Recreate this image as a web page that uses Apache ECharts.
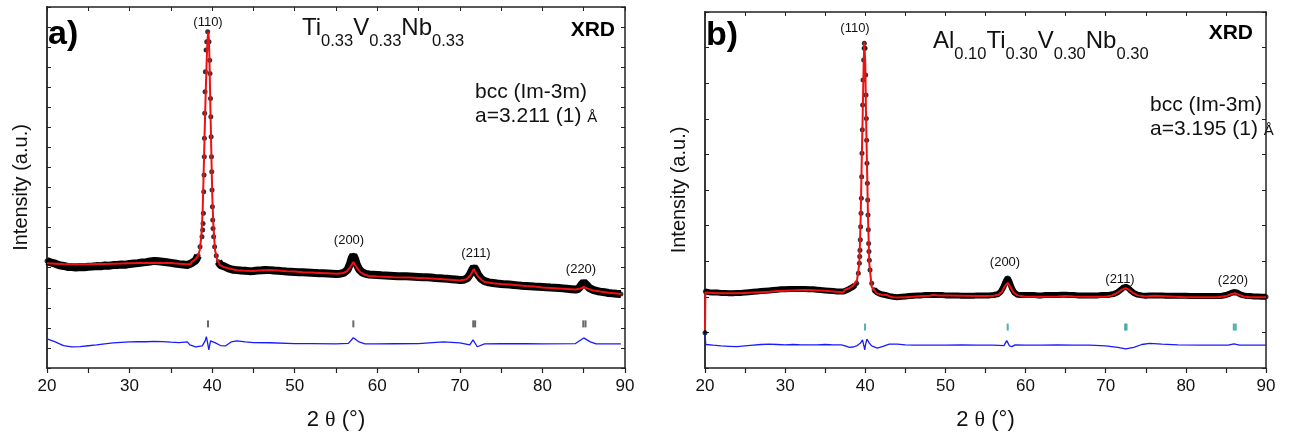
<!DOCTYPE html>
<html>
<head>
<meta charset="utf-8">
<script src="https://cdn.jsdelivr.net/npm/echarts@6/dist/echarts.min.js"></script>
<style>
html,body{margin:0;padding:0;background:#fff;}
#chart{width:1291px;height:439px;}
</style>
</head>
<body>
<div id="chart"></div>
<script>
// ---------------- DATA ----------------
// Panel a) Ti0.33V0.33Nb0.33 : [2theta, intensity a.u.]
const obsA = [[20.0,5.33],[20.5,5.26],[21.0,5.20],[21.5,5.12],[22.0,5.09],[22.5,5.04],[23.0,5.03],[23.5,5.01],[24.0,5.04],[24.5,5.02],[25.0,5.05],[25.5,5.06],[26.0,5.08],[26.5,5.07],[27.0,5.11],[27.5,5.10],[28.0,5.13],[28.5,5.14],[29.0,5.16],[29.5,5.15],[30.0,5.19],[30.5,5.21],[31.0,5.23],[31.5,5.26],[32.0,5.28],[32.5,5.31],[33.0,5.34],[33.5,5.32],[34.0,5.30],[34.5,5.27],[35.0,5.24],[35.5,5.21],[36.0,5.18],[36.5,5.16],[37.0,5.14],[37.5,5.22],[38.0,5.36],[38.3,5.60],[38.53,6.05],[38.77,6.54],[38.86,6.88],[38.90,7.21],[38.94,7.71],[38.98,8.79],[39.02,9.62],[39.05,10.53],[39.07,11.45],[39.10,12.70],[39.14,13.77],[39.18,14.77],[39.26,15.85],[39.34,16.27],[39.46,16.77],[39.62,16.27],[39.70,15.35],[39.74,14.69],[39.80,13.44],[39.84,12.53],[39.88,11.53],[39.92,10.53],[39.95,9.79],[39.99,8.87],[40.03,8.04],[40.07,7.38],[40.11,6.96],[40.18,6.54],[40.30,6.05],[40.50,5.60],[40.75,5.30],[41.0,5.14],[41.5,5.06],[42.0,4.96],[42.5,4.90],[43.0,4.88],[43.5,4.86],[44.0,4.85],[44.5,4.83],[45.0,4.84],[45.5,4.86],[46.0,4.87],[46.5,4.89],[47.0,4.88],[47.5,4.86],[48.0,4.85],[48.5,4.83],[49.0,4.81],[49.5,4.80],[50.0,4.79],[50.5,4.78],[51.0,4.77],[51.5,4.76],[52.0,4.75],[52.5,4.74],[53.0,4.73],[53.5,4.72],[54.0,4.71],[54.5,4.70],[55.0,4.69],[55.5,4.70],[56.0,4.76],[56.4,4.90],[56.7,5.20],[56.9,5.48],[57.1,5.62],[57.3,5.45],[57.5,5.18],[57.8,4.92],[58.2,4.76],[58.6,4.69],[59.0,4.66],[59.5,4.65],[60.0,4.64],[60.5,4.62],[61.0,4.61],[61.5,4.60],[62.0,4.59],[62.5,4.58],[63.0,4.57],[63.5,4.57],[64.0,4.56],[64.5,4.55],[65.0,4.54],[65.5,4.53],[66.0,4.52],[66.5,4.51],[67.0,4.49],[67.5,4.48],[68.0,4.46],[68.5,4.45],[69.0,4.43],[69.5,4.41],[70.0,4.39],[70.5,4.40],[70.9,4.48],[71.2,4.65],[71.5,4.90],[71.7,5.03],[71.9,4.92],[72.2,4.65],[72.6,4.44],[73.0,4.33],[73.5,4.27],[74.0,4.24],[74.5,4.21],[75.0,4.19],[75.5,4.17],[76.0,4.16],[76.5,4.14],[77.0,4.12],[77.5,4.10],[78.0,4.09],[78.5,4.08],[79.0,4.06],[79.5,4.05],[80.0,4.04],[80.5,4.03],[81.0,4.01],[81.5,4.00],[82.0,3.99],[82.5,3.97],[83.0,3.95],[83.5,3.93],[84.0,3.91],[84.4,3.96],[84.7,4.14],[85.0,4.28],[85.3,4.16],[85.7,3.98],[86.2,3.88],[86.7,3.83],[87.0,3.81],[87.5,3.78],[88.0,3.74],[88.5,3.72],[89.0,3.70],[89.5,3.69]];
const calcA = [[20,5.22],[21,5.20],[22,5.18],[23,5.17],[24,5.17],[25,5.17],[26,5.18],[27,5.19],[28,5.20],[29,5.21],[30,5.22],[31,5.23],[32,5.24],[33,5.25],[34,5.24],[35,5.23],[36,5.20],[37,5.17],[37.4,5.17],[37.5,5.28],[38,5.43],[38.3,5.6],[38.5,5.88],[38.7,6.6],[38.85,7.8],[38.93,9.04],[39.03,10.7],[39.13,12.36],[39.24,14.0],[39.34,15.35],[39.44,16.4],[39.54,16.77],[39.60,16.4],[39.66,15.70],[39.74,14.0],[39.82,12.36],[39.92,10.4],[40.02,8.54],[40.15,7.1],[40.35,5.88],[40.6,5.4],[40.95,5.13],[41.5,5.02],[41.96,4.97],[42.2,4.89],[43,4.87],[44,4.85],[45,4.84],[46,4.87],[47,4.89],[48,4.86],[49,4.83],[50,4.81],[51,4.78],[52,4.76],[53,4.74],[54,4.72],[55,4.70],[55.8,4.72],[56.3,4.82],[56.7,5.02],[57.1,5.28],[57.5,5.02],[57.9,4.80],[58.4,4.66],[59,4.59],[60,4.56],[62,4.53],[64,4.51],[65,4.49],[66,4.47],[68,4.42],[70,4.36],[70.8,4.42],[71.3,4.64],[71.7,4.94],[72.1,4.62],[72.6,4.40],[73,4.29],[74,4.23],[75,4.19],[76,4.16],[77,4.13],[78,4.09],[79,4.06],[80,4.01],[81,3.99],[82,3.97],[83,3.94],[84,3.91],[84.6,3.96],[85,4.04],[85.4,3.97],[86,3.88],[87,3.81],[88,3.75],[89,3.71],[89.5,3.69]];
const diffA = [[20,1.45],[21,1.30],[22,1.12],[23,1.05],[24,1.07],[25,1.11],[26,1.15],[27,1.20],[28,1.25],[29,1.28],[30,1.30],[31,1.31],[32,1.31],[33,1.33],[34,1.32],[35,1.29],[36,1.27],[37,1.30],[37.3,1.15],[38,1.05],[38.8,1.10],[39.15,1.35],[39.3,1.56],[39.45,1.25],[39.6,0.90],[39.8,1.35],[40.0,1.43],[40.4,1.25],[41.0,1.12],[41.6,1.10],[42.3,1.30],[43,1.35],[44,1.30],[45,1.27],[47,1.26],[50,1.22],[52,1.22],[55,1.20],[56.5,1.23],[57.1,1.51],[57.8,1.30],[58.5,1.20],[60,1.20],[62,1.21],[65,1.22],[68,1.30],[70,1.25],[71.2,1.15],[71.6,1.40],[72.1,1.06],[73,1.20],[75,1.22],[78,1.21],[80,1.20],[84,1.22],[85,1.50],[85.8,1.30],[86.5,1.20],[88,1.20],[89.5,1.20]];
const braggA = [[39.5,2.2],[57.1,2.2],[71.62,2.2],[71.85,2.2],[84.95,2.2],[85.22,2.2]];
const hklA = ['(110)','(200)','(211)','(220)'];
const formulaA = ['Ti','0.33','V','0.33','Nb','0.33'];
const latticeA = 'a=3.211 (1) ';

// Panel b) Al0.10Ti0.30V0.30Nb0.30
const obsStartB = [[20.0,0.99]];
const obsB = [[20.05,2.15],[20.5,2.13],[21,2.12],[21.5,2.12],[22,2.11],[22.5,2.11],[23,2.10],[23.5,2.10],[24,2.11],[24.5,2.11],[25,2.12],[25.5,2.13],[26,2.14],[26.5,2.15],[27,2.16],[27.5,2.17],[28,2.18],[28.5,2.19],[29,2.20],[29.5,2.21],[30,2.21],[30.5,2.22],[31,2.22],[31.5,2.22],[32,2.22],[32.5,2.22],[33,2.21],[33.5,2.21],[34,2.20],[34.5,2.19],[35,2.18],[35.5,2.17],[36,2.16],[36.5,2.15],[37,2.15],[37.3,2.15],[37.6,2.18],[38,2.22],[38.4,2.27],[38.7,2.32],[38.93,2.38],[39.13,2.66],[39.26,2.94],[39.30,3.13],[39.34,3.31],[39.38,3.60],[39.42,3.97],[39.47,4.35],[39.51,4.77],[39.55,5.37],[39.59,6.03],[39.63,6.69],[39.67,7.39],[39.72,8.09],[39.80,8.65],[39.86,8.98],[39.88,9.12],[39.97,8.98],[40.05,8.23],[40.09,7.67],[40.13,7.01],[40.17,6.40],[40.21,5.75],[40.26,5.19],[40.30,4.72],[40.34,4.30],[40.38,3.88],[40.42,3.50],[40.46,3.27],[40.51,3.03],[40.59,2.75],[40.80,2.38],[41.1,2.20],[41.5,2.12],[42,2.07],[42.5,2.05],[43,2.02],[43.5,2.00],[44,1.99],[44.5,2.00],[45,2.01],[45.5,2.02],[46,2.03],[46.5,2.04],[47,2.04],[47.5,2.05],[48,2.05],[48.5,2.05],[49,2.05],[49.5,2.05],[50,2.04],[50.5,2.04],[51,2.04],[51.5,2.04],[52,2.03],[52.5,2.03],[53,2.03],[53.5,2.03],[54,2.04],[54.5,2.04],[55,2.04],[55.5,2.04],[56,2.05],[56.5,2.07],[56.9,2.14],[57.2,2.26],[57.5,2.43],[57.77,2.53],[58.0,2.42],[58.3,2.24],[58.6,2.12],[59,2.06],[59.5,2.05],[60,2.05],[60.5,2.05],[61,2.05],[61.5,2.04],[62,2.04],[62.5,2.05],[63,2.05],[63.5,2.05],[64,2.05],[64.5,2.06],[65,2.06],[65.5,2.05],[66,2.05],[66.5,2.04],[67,2.04],[67.5,2.04],[68,2.04],[68.5,2.04],[69,2.04],[69.5,2.05],[70,2.05],[70.5,2.06],[71,2.08],[71.5,2.13],[71.9,2.20],[72.2,2.26],[72.5,2.28],[72.8,2.25],[73.1,2.18],[73.5,2.11],[74,2.06],[74.5,2.04],[75,2.03],[75.5,2.04],[76,2.04],[76.5,2.04],[77,2.04],[77.5,2.03],[78,2.03],[78.5,2.03],[79,2.03],[79.5,2.03],[80,2.03],[80.5,2.02],[81,2.02],[81.5,2.02],[82,2.02],[82.5,2.02],[83,2.02],[83.5,2.02],[84,2.02],[84.5,2.03],[85,2.05],[85.5,2.09],[85.9,2.13],[86.1,2.14],[86.4,2.12],[86.8,2.07],[87.2,2.04],[87.5,2.03],[88,2.02],[88.5,2.01],[89,2.01],[89.5,2.00],[90,2.00]];
const calcB = [[20,1.07],[20.05,2.12],[21,2.11],[22,2.10],[23,2.10],[24,2.10],[25,2.11],[26,2.12],[27,2.13],[28,2.14],[29,2.16],[30,2.17],[31,2.18],[32,2.19],[33,2.19],[34,2.18],[35,2.17],[36,2.15],[37,2.13],[37.3,2.13],[37.4,2.19],[38,2.24],[38.5,2.32],[38.97,2.47],[39.26,2.94],[39.43,4.25],[39.55,5.75],[39.68,7.15],[39.80,8.56],[39.88,9.14],[40.0,8.56],[40.09,7.15],[40.21,5.75],[40.34,4.25],[40.5,2.94],[40.8,2.28],[41.42,2.10],[42,2.06],[42.67,2.05],[43.2,2.00],[43.5,1.99],[44,1.98],[45,1.99],[46,2.00],[47,2.02],[48,2.03],[48.5,2.05],[49,2.04],[50,2.04],[52,2.03],[54,2.02],[55,2.02],[56,2.03],[56.6,2.06],[57.0,2.13],[57.4,2.30],[57.77,2.39],[58.1,2.28],[58.5,2.12],[59,2.04],[60,2.00],[62,2.00],[64,2.01],[65,2.02],[66,2.01],[68,2.00],[70,2.00],[70.8,2.04],[71.5,2.12],[72.0,2.20],[72.5,2.24],[72.9,2.20],[73.4,2.11],[74,2.04],[75,2.01],[76,2.03],[78,2.01],[80,1.99],[82,1.99],[84,1.99],[85,2.02],[85.6,2.07],[86.1,2.10],[86.6,2.06],[87.2,2.01],[88,1.99],[90,1.99]];
const diffB = [[20,0.97],[20.1,0.66],[21,0.64],[22,0.62],[23,0.61],[24,0.60],[25,0.62],[26,0.64],[27,0.66],[28,0.67],[29,0.66],[30,0.65],[31,0.66],[32,0.65],[33,0.65],[34,0.65],[35,0.66],[36,0.65],[37,0.65],[37.5,0.62],[38,0.58],[38.5,0.59],[39.0,0.63],[39.4,0.70],[39.65,0.79],[39.85,0.60],[39.93,0.51],[40.05,0.68],[40.2,0.81],[40.5,0.70],[40.8,0.62],[41.5,0.56],[42.2,0.61],[43,0.67],[44,0.67],[45,0.65],[46,0.64],[48,0.64],[50,0.64],[52,0.65],[54,0.64],[56,0.64],[57.3,0.63],[57.65,0.77],[58.0,0.62],[58.3,0.60],[58.7,0.65],[60,0.64],[62,0.64],[64,0.65],[66,0.64],[68,0.64],[70,0.62],[71.5,0.58],[72.5,0.54],[73.5,0.58],[74.5,0.66],[75.5,0.69],[77,0.67],[79,0.65],[82,0.64],[84,0.64],[85.3,0.64],[86.0,0.68],[86.7,0.64],[88,0.64],[90,0.64]];
const braggB = [[39.97,1.15],[57.77,1.15],[72.42,1.15],[72.6,1.15],[85.98,1.15],[86.22,1.15]];
const hklB = ['(110)','(200)','(211)','(220)'];
const formulaB = ['Al','0.10','Ti','0.30','V','0.30','Nb','0.30'];
const latticeB = 'a=3.195 (1) ';

const xTicks = [20, 30, 40, 50, 60, 70, 80, 90];
// --------------------------------------------------------------

const FONT = '"Liberation Sans", Arial, sans-serif';
const AX = '#222';

function bandLine(data, lo, hi) {
  return data.map(p => (p[0] > lo && p[0] < hi) ? [p[0], '-'] : p);
}

function xBottom(gi) {
  return {
    type: 'value', gridIndex: gi, min: xTicks[0], max: xTicks[xTicks.length - 1], interval: 10,
    position: 'bottom',
    axisLine: {show: true, onZero: false, lineStyle: {color: AX, width: 1.5}},
    axisTick: {show: true, inside: false, length: 5, lineStyle: {color: AX, width: 1.2}},
    minorTick: {show: true, splitNumber: 2, length: 5, lineStyle: {color: AX, width: 1.2}},
    axisLabel: {show: true, fontSize: 17, color: '#111', fontFamily: FONT, margin: 10},
    splitLine: {show: false},
    name: '2 {t|θ} (°)', nameLocation: 'middle', nameGap: 41,
    nameTextStyle: {fontSize: 22, color: '#111', fontFamily: FONT,
      rich: {t: {fontSize: 22, fontFamily: '"Liberation Serif", serif', color: '#111'}}}
  };
}
function xTop(gi) {
  return {
    type: 'value', gridIndex: gi, min: 20, max: 90, interval: 5, position: 'top',
    axisLine: {show: true, onZero: false, lineStyle: {color: AX, width: 1.5}},
    axisTick: {show: true, inside: true, length: 4, lineStyle: {color: AX, width: 1}},
    axisLabel: {show: false}, splitLine: {show: false}
  };
}
function yLeft(gi, max) {
  return {
    type: 'value', gridIndex: gi, min: 0, max: max, interval: 1, position: 'left',
    axisLine: {show: true, onZero: false, lineStyle: {color: AX, width: 1.8}},
    axisTick: {show: true, inside: true, length: 4, lineStyle: {color: AX, width: 1}},
    axisLabel: {show: false}, splitLine: {show: false},
    name: 'Intensity (a.u.)', nameLocation: 'middle', nameGap: 16,
    nameTextStyle: {fontSize: 20, color: '#111', fontFamily: FONT}
  };
}
function yRight(gi, max) {
  return {
    type: 'value', gridIndex: gi, min: 0, max: max, interval: 1, position: 'right',
    axisLine: {show: true, onZero: false, lineStyle: {color: AX, width: 1.5}},
    axisTick: {show: true, inside: true, length: 4, lineStyle: {color: AX, width: 1}},
    axisLabel: {show: false}, splitLine: {show: false}
  };
}

function panelSeries(xi, yi, obs, obsExtra, calc, diff, bragg, lo, hi, bandW, braggColor) {
  return [
    {type: 'line', xAxisIndex: xi, yAxisIndex: yi, data: bandLine(obs, lo, hi), showSymbol: false,
      connectNulls: false, lineStyle: {color: '#000', width: bandW}, z: 2, silent: true},
    {type: 'scatter', xAxisIndex: xi, yAxisIndex: yi, data: obsExtra.concat(obs), symbol: 'circle',
      symbolSize: 5, itemStyle: {color: '#000'}, z: 3, silent: true},
    {type: 'line', xAxisIndex: xi, yAxisIndex: yi, data: calc, showSymbol: false,
      lineStyle: {color: '#ee1111', width: 2}, z: 4, silent: true},
    {type: 'line', xAxisIndex: xi, yAxisIndex: yi, data: diff, showSymbol: false,
      lineStyle: {color: '#1a1aff', width: 1.3}, z: 4, silent: true},
    {type: 'scatter', xAxisIndex: xi, yAxisIndex: yi, data: bragg, symbol: 'rect',
      symbolSize: [2, 7], itemStyle: {color: braggColor}, z: 4, silent: true}
  ];
}

function T(x, y, text, font, align, valign, fill) {
  return {type: 'text', x: x, y: y, silent: true,
    style: {text: text, font: font, fill: fill || '#111',
      textAlign: align, textVerticalAlign: valign, align: align, verticalAlign: valign}};
}
const measureCtx = document.createElement('canvas').getContext('2d');
function textW(text, font) { measureCtx.font = font; return measureCtx.measureText(text).width; }
const MID = 0.3465; // em offset between alphabetic baseline and middle
// pieces drawn on a common baseline; 'sub' pieces dropped below it
function chemTexts(x, baseline, parts, mainSize, subSize, subDrop) {
  const out = [];
  let cx = x;
  parts.forEach((p, i) => {
    const isSub = i % 2 === 1;
    const size = isSub ? subSize : mainSize;
    const font = size + 'px ' + FONT;
    const base = isSub ? baseline + subDrop : baseline;
    out.push(T(cx, base - MID * size, p, font, 'left', 'middle'));
    cx += textW(p, font);
  });
  return out;
}
function latticeTexts(x, baseline, text, size, angSize) {
  const font = size + 'px ' + FONT;
  return [
    T(x, baseline - MID * size, text, font, 'left', 'middle'),
    T(x + textW(text, font), baseline - MID * angSize, 'Å', angSize + 'px ' + FONT, 'left', 'middle')
  ];
}

const graphics = [
  T(48, 35, 'a)', 'bold 34px ' + FONT, 'left', 'middle', '#000'),
  T(208, 22, hklA[0], '13px ' + FONT, 'center', 'middle'),
  T(349, 240, hklA[1], '13px ' + FONT, 'center', 'middle'),
  T(476, 253, hklA[2], '13px ' + FONT, 'center', 'middle'),
  T(581, 269, hklA[3], '13px ' + FONT, 'center', 'middle'),
  T(615, 30, 'XRD', 'bold 21px ' + FONT, 'right', 'middle', '#000'),
  T(475, 92, 'bcc (Im-3m)', '21px ' + FONT, 'left', 'middle'),

  T(706, 36, 'b)', 'bold 34px ' + FONT, 'left', 'middle', '#000'),
  T(855, 28, hklB[0], '13px ' + FONT, 'center', 'middle'),
  T(1005, 262, hklB[1], '13px ' + FONT, 'center', 'middle'),
  T(1120, 279, hklB[2], '13px ' + FONT, 'center', 'middle'),
  T(1233, 280, hklB[3], '13px ' + FONT, 'center', 'middle'),
  T(1253, 33, 'XRD', 'bold 21px ' + FONT, 'right', 'middle', '#000'),
  T(1150, 105, 'bcc (Im-3m)', '21px ' + FONT, 'left', 'middle')
].concat(
  chemTexts(302, 37, formulaA, 24, 16.5, 10),
  chemTexts(933, 50, formulaB, 24, 16.5, 10),
  latticeTexts(475, 123.5, latticeA, 21, 15),
  latticeTexts(1150, 136.5, latticeB, 21, 15)
);

const chart = echarts.init(document.getElementById('chart'), null, {renderer: 'canvas'});
chart.setOption({
  animation: false,
  backgroundColor: '#fff',
  textStyle: {fontFamily: FONT},
  grid: [
    {left: 47, top: 7, width: 578, height: 361, containLabel: false},
    {left: 705, top: 12, width: 561, height: 356, containLabel: false}
  ],
  xAxis: [xBottom(0), xTop(0), xBottom(1), xTop(1)],
  yAxis: [yLeft(0, 18), yRight(0, 18), yLeft(1, 10), yRight(1, 10)],
  series: [].concat(
    panelSeries(0, 0, obsA, [], calcA, diffA, braggA, 38.4, 40.6, 8, '#444'),
    panelSeries(2, 2, obsB, obsStartB, calcB, diffB, braggB, 38.8, 40.9, 6, '#2a9a9a')
  ),
  graphic: graphics
});
</script>
</body>
</html>
